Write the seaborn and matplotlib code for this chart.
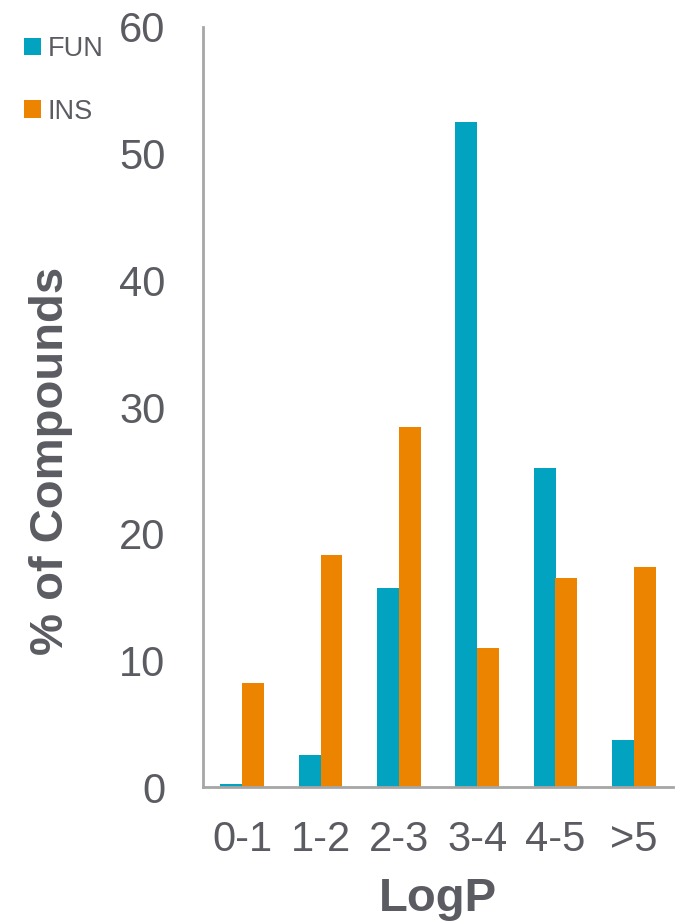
import matplotlib
matplotlib.use("Agg")
import matplotlib.pyplot as plt
import seaborn as sns
import pandas as pd

categories = ["0-1", "1-2", "2-3", "3-4", "4-5", ">5"]
fun_values = [0.2, 2.5, 15.7, 52.5, 25.2, 3.7]
ins_values = [8.2, 18.3, 28.4, 11.0, 16.5, 17.4]
series_names = ["FUN", "INS"]
y_ticks = [0, 10, 20, 30, 40, 50, 60]

sns.set_theme(style="white")
plt.rcParams["font.family"] = ["Liberation Sans", "DejaVu Sans"]

TEXT = "#5B5C62"
SPINE = "#A6A6A6"
colors = {"FUN": "#02A2C1", "INS": "#EC8400"}

df = pd.DataFrame({
    "LogP": categories * 2,
    "value": fun_values + ins_values,
    "series": [series_names[0]] * len(categories) + [series_names[1]] * len(categories),
})

fig = plt.figure(figsize=(6.92, 9.21), dpi=100)
ax = fig.add_axes([203 / 692, 1 - 787 / 921, 470 / 692, 760 / 921])

sns.barplot(data=df, x="LogP", y="value", hue="series", order=categories,
            hue_order=series_names, palette=colors, width=0.56, gap=0,
            saturation=1, linewidth=0, ax=ax, legend=True)

ax.set_ylim(0, 60)
ax.set_xlim(-0.5, 5.5)
ax.set_yticks(y_ticks)
ax.tick_params(axis="both", length=0, labelsize=30, colors=TEXT)
ax.tick_params(axis="y", pad=27)
ax.tick_params(axis="x", pad=24)
for s in ["top", "right"]:
    ax.spines[s].set_visible(False)
for s in ["left", "bottom"]:
    ax.spines[s].set_color(SPINE)
    ax.spines[s].set_linewidth(2)

ax.set_xlabel("LogP", fontsize=34, fontweight="bold", color=TEXT, labelpad=12)
ax.set_ylabel("")
fig.text(51 / 692, 1 - 461 / 921, "% of Compounds", rotation=90, fontsize=34,
         fontweight="bold", color=TEXT, ha="center", va="center")

handles, labels = ax.get_legend_handles_labels()
leg = ax.legend(handles, labels, loc="upper left",
                bbox_to_anchor=(24 / 692, 1 - 36 / 921),
                bbox_transform=fig.transFigure, frameon=False,
                fontsize=19.5, handlelength=0.62, handleheight=0.62,
                handletextpad=0.25, labelspacing=1.35, borderpad=0,
                borderaxespad=0)
for t in leg.get_texts():
    t.set_color(TEXT)

fig.savefig("out.png", dpi=100)
